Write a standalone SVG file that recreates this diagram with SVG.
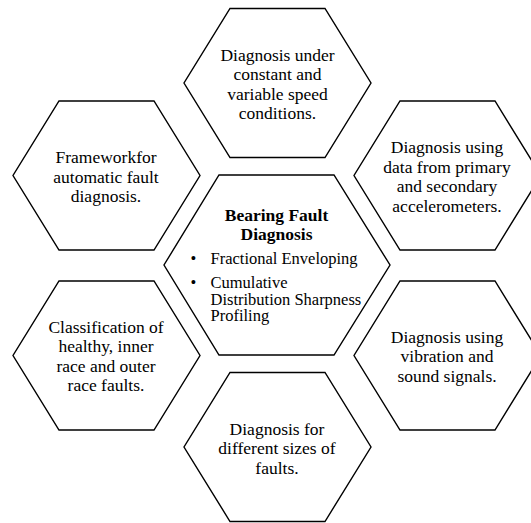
<svg xmlns="http://www.w3.org/2000/svg" width="531" height="523" viewBox="0 0 531 523">
<style>
.hex{fill:#fff;stroke:#000;stroke-width:1.4;stroke-linejoin:miter}
.t{font-family:"Liberation Serif","Times New Roman",serif;font-size:17.5px;fill:#000;text-anchor:middle}
.b{font-weight:bold}
.s{font-family:"Liberation Serif","Times New Roman",serif;font-size:16.5px;fill:#000}
</style>
<rect width="531" height="523" fill="#fff"/>
<g id="connectors"/>
<g id="node-speed">
<polygon class="hex" points="230,8.5 325,8.5 371,83 325,157.5 230,157.5 184,83"/>
<text class="t" x="277.5" y="60.5">Diagnosis under</text>
<text class="t" x="277.5" y="80">constant and</text>
<text class="t" x="277.5" y="99.5">variable speed</text>
<text class="t" x="277.5" y="119">conditions.</text>
</g>
<g id="node-framework">
<polygon class="hex" points="59,101 154,101 200,175.5 154,250 59,250 13,175.5"/>
<text class="t" x="106" y="163">Frameworkfor</text>
<text class="t" x="106" y="182.5">automatic fault</text>
<text class="t" x="106" y="202">diagnosis.</text>
</g>
<g id="node-accelerometers">
<polygon class="hex" points="400,101 495,101 541,175.5 495,250 400,250 354,175.5"/>
<text class="t" x="447" y="153">Diagnosis using</text>
<text class="t" x="447" y="172.5">data from primary</text>
<text class="t" x="447" y="192">and secondary</text>
<text class="t" x="447" y="211.5">accelerometers.</text>
</g>
<g id="node-classification">
<polygon class="hex" points="59,281 154,281 200,355.5 154,430 59,430 13,355.5"/>
<text class="t" x="106" y="332.5">Classification of</text>
<text class="t" x="106" y="352">healthy, inner</text>
<text class="t" x="106" y="371.5">race and outer</text>
<text class="t" x="106" y="391">race faults.</text>
</g>
<g id="node-sound">
<polygon class="hex" points="400,281 495,281 541,355.5 495,430 400,430 354,355.5"/>
<text class="t" x="447" y="342.5">Diagnosis using</text>
<text class="t" x="447" y="362">vibration and</text>
<text class="t" x="447" y="381.5">sound signals.</text>
</g>
<g id="node-sizes">
<polygon class="hex" points="230,372.5 325,372.5 371,447 325,521.5 230,521.5 184,447"/>
<text class="t" x="277" y="434.5">Diagnosis for</text>
<text class="t" x="277" y="454">different sizes of</text>
<text class="t" x="277" y="473.5">faults.</text>
</g>
<g id="node-center">
<polygon class="hex" points="219,175 334,175 390,265 334,355 219,355 164,265"/>
<text class="t b" x="276.5" y="221">Bearing Fault</text>
<text class="t b" x="276.5" y="240">Diagnosis</text>
<text class="s" x="190.5" y="264">•</text>
<text class="s" x="210.5" y="264">Fractional Enveloping</text>
<text class="s" x="190.5" y="288">•</text>
<text class="s" x="210.5" y="288">Cumulative</text>
<text class="s" x="210.5" y="304.7">Distribution Sharpness</text>
<text class="s" x="210.5" y="321.4">Profiling</text>
</g>
</svg>
